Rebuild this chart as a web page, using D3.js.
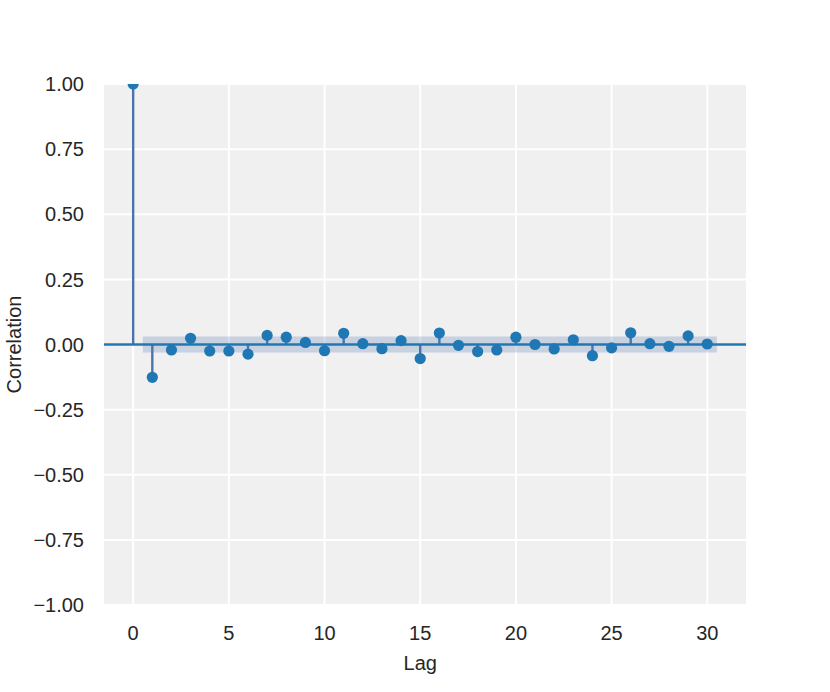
<!DOCTYPE html>
<html>
<head>
<meta charset="utf-8">
<script src="https://cdn.jsdelivr.net/npm/d3@7"></script>
<style>
  html, body { margin: 0; padding: 0; background: #ffffff; }
  svg { display: block; }
  text { font-family: "Liberation Sans", Arial, Helvetica, sans-serif; fill: #262626; }
</style>
</head>
<body>
<svg id="chart" width="830" height="692"></svg>
<script>
// ---- data ----
const lags = d3.range(0, 31);
const acfValues = [1.0, -0.126, -0.021, 0.024, -0.025, -0.025, -0.037, 0.035, 0.028, 0.008,
  -0.024, 0.043, 0.003, -0.016, 0.015, -0.054, 0.044, -0.003, -0.027, -0.021,
  0.028, 0.000, -0.017, 0.018, -0.043, -0.013, 0.045, 0.003, -0.007, 0.033, 0.002];
const confHalfWidth = 0.031;
const yTicks = [-1, -0.75, -0.5, -0.25, 0, 0.25, 0.5, 0.75, 1];
const xTicks = [0, 5, 10, 15, 20, 25, 30];
const xLabel = "Lag";
const yLabel = "Correlation";

// ---- layout ----
const svg = d3.select("#chart");
const plot = { left: 104, right: 746, top: 84, bottom: 605 };
const x = d3.scaleLinear().domain([-1.525, 32.025]).range([plot.left, plot.right]);
const y = d3.scaleLinear().domain([-1, 1]).range([plot.bottom, plot.top]);

svg.append("defs").append("clipPath").attr("id", "clip")
  .append("rect").attr("x", plot.left).attr("y", plot.top)
  .attr("width", plot.right - plot.left).attr("height", plot.bottom - plot.top);

// background
svg.append("rect").attr("x", plot.left).attr("y", plot.top)
  .attr("width", plot.right - plot.left).attr("height", plot.bottom - plot.top)
  .attr("fill", "#f0f0f0");

// grid
const grid = svg.append("g");
grid.selectAll(".gx").data(xTicks).join("line")
  .attr("x1", d => x(d)).attr("x2", d => x(d))
  .attr("y1", plot.top).attr("y2", plot.bottom)
  .attr("stroke", "#ffffff").attr("stroke-width", 2);
grid.selectAll(".gy").data(yTicks).join("line")
  .attr("y1", d => y(d)).attr("y2", d => y(d))
  .attr("x1", plot.left).attr("x2", plot.right)
  .attr("stroke", "#ffffff").attr("stroke-width", 2);

const g = svg.append("g").attr("clip-path", "url(#clip)");

// confidence band
const bandLags = lags.slice(1).map((l, i, a) => i === 0 ? l - 0.5 : (i === a.length - 1 ? l + 0.5 : l));
const area = d3.area().x(d => x(d)).y0(y(-confHalfWidth)).y1(y(confHalfWidth));
g.append("path").datum(bandLags).attr("d", area)
  .attr("fill", "#4c72b0").attr("fill-opacity", 0.25);

// stems
g.selectAll(".stem").data(lags).join("line")
  .attr("x1", d => x(d)).attr("x2", d => x(d))
  .attr("y1", y(0)).attr("y2", (d, i) => y(acfValues[i]))
  .attr("stroke", "#4c72b0").attr("stroke-width", 2.4);

// zero line
g.append("line").attr("x1", plot.left).attr("x2", plot.right)
  .attr("y1", y(0)).attr("y2", y(0))
  .attr("stroke", "#1f77b4").attr("stroke-width", 2.4);

// markers
g.selectAll(".pt").data(lags).join("circle")
  .attr("cx", d => x(d)).attr("cy", (d, i) => y(acfValues[i]))
  .attr("r", 5.6).attr("fill", "#1f77b4");

// y axis labels
const fmt = d => (d < 0 ? "\u2212" : "") + Math.abs(d).toFixed(2);
svg.append("g").selectAll("text").data(yTicks).join("text")
  .attr("x", 84).attr("y", d => y(d)).attr("dy", "0.36em")
  .attr("text-anchor", "end").attr("font-size", 20).text(fmt);

// x axis labels
svg.append("g").selectAll("text").data(xTicks).join("text")
  .attr("x", d => x(d)).attr("y", 640)
  .attr("text-anchor", "middle").attr("font-size", 20).text(d => d);

svg.append("text").attr("x", x(15)).attr("y", 670)
  .attr("text-anchor", "middle").attr("font-size", 20).text(xLabel);

svg.append("text").attr("transform", `translate(21,${(plot.top + plot.bottom) / 2}) rotate(-90)`)
  .attr("text-anchor", "middle").attr("font-size", 20).text(yLabel);
</script>
</body>
</html>
